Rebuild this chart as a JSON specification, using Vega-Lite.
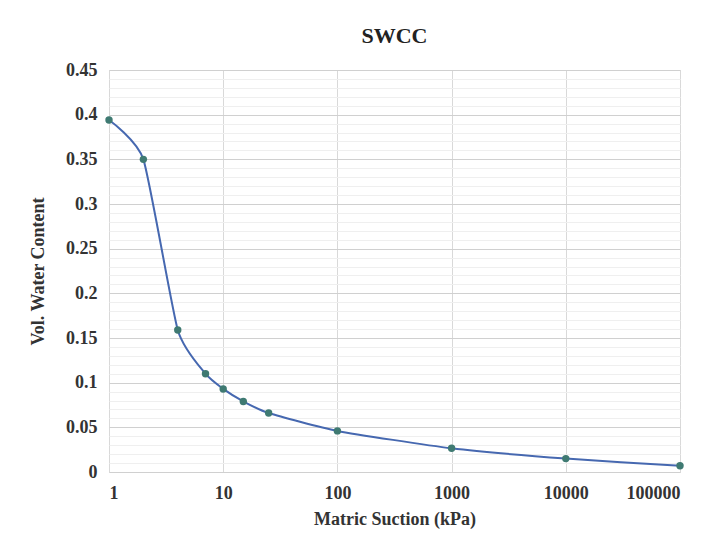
{
  "$schema": "https://vega.github.io/schema/vega-lite/v6.json",
  "width": 571,
  "height": 402,
  "padding": {"left": 29, "top": 25, "right": 30, "bottom": 10},
  "background": "white",
  "title": {
    "text": "SWCC",
    "font": "Liberation Serif",
    "fontSize": 22,
    "fontWeight": "bold",
    "color": "#222222",
    "offset": 13,
    "anchor": "middle"
  },
  "config": {
    "view": {"stroke": "#d9d9d9"},
    "axis": {
      "labelFont": "Liberation Serif",
      "labelFontWeight": "bold",
      "labelFontSize": 18,
      "labelColor": "#333333",
      "titleFont": "Liberation Serif",
      "titleFontWeight": "bold",
      "titleFontSize": 18,
      "titleColor": "#333333",
      "domain": false,
      "ticks": false
    }
  },
  "data": {
    "values": [
      {"suction": 1, "theta": 0.394},
      {"suction": 2, "theta": 0.350},
      {"suction": 4, "theta": 0.159},
      {"suction": 7, "theta": 0.110},
      {"suction": 10, "theta": 0.093},
      {"suction": 15, "theta": 0.079},
      {"suction": 25, "theta": 0.066},
      {"suction": 100, "theta": 0.046},
      {"suction": 1000, "theta": 0.0265},
      {"suction": 10000, "theta": 0.015},
      {"suction": 100000, "theta": 0.007}
    ]
  },
  "encoding": {
    "x": {
      "field": "suction",
      "type": "quantitative",
      "scale": {"type": "log", "domain": [1, 100000], "nice": false},
      "axis": {
        "title": "Matric Suction (kPa)",
        "values": [1, 10, 100, 1000, 10000, 100000],
        "format": "d",
        "gridColor": "#d9d9d9",
        "labelPadding": 12,
        "titlePadding": 8
      }
    },
    "y": {
      "field": "theta",
      "type": "quantitative",
      "scale": {"domain": [0, 0.45], "nice": false, "zero": true},
      "axis": {
        "title": "Vol. Water Content",
        "values": [0,0.01,0.02,0.03,0.04,0.05,0.06,0.07,0.08,0.09,0.1,0.11,0.12,0.13,0.14,0.15,0.16,0.17,0.18,0.19,0.2,0.21,0.22,0.23,0.24,0.25,0.26,0.27,0.28,0.29,0.3,0.31,0.32,0.33,0.34,0.35,0.36,0.37,0.38,0.39,0.4,0.41,0.42,0.43,0.44,0.45],
        "labelExpr": "round(datum.value*100) % 5 == 0 ? format(datum.value, '~g') : ''",
        "gridColor": {"condition": {"test": "round(datum.value*100) % 5 == 0", "value": "#d0d0d0"}, "value": "#efefef"},
        "labelPadding": 12,
        "titlePadding": 18
      }
    }
  },
  "layer": [
    {"mark": {"type": "line", "interpolate": "cardinal", "tension": 0.45, "color": "#4668b0", "strokeWidth": 2}},
    {"mark": {"type": "point", "filled": true, "color": "#3f7a72", "size": 55, "opacity": 1}}
  ]
}
